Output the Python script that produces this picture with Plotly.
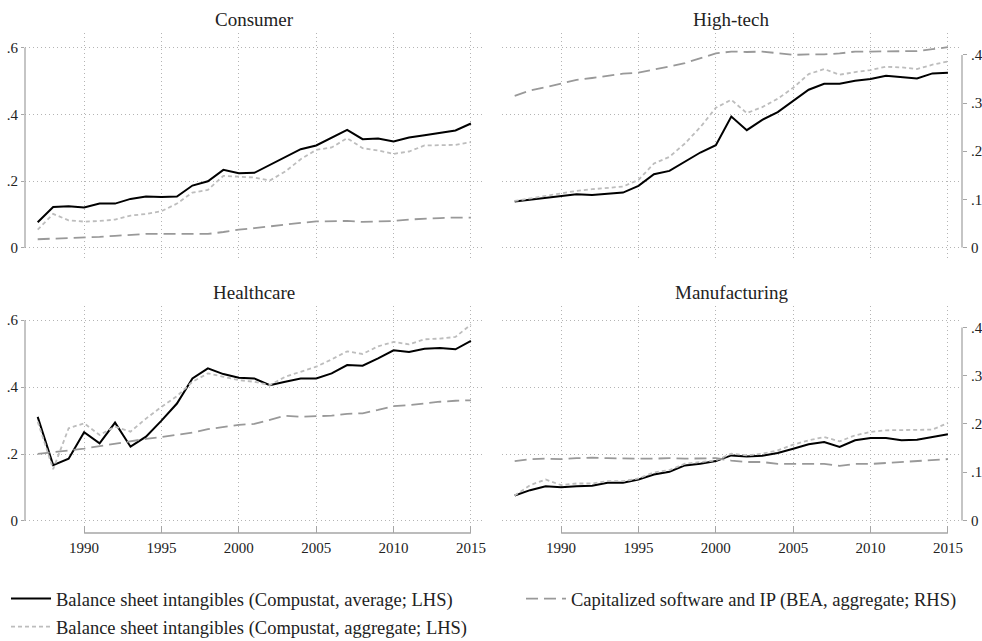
import plotly.graph_objects as go

years = list(range(1987, 2016))
year_ticks = [1990, 1995, 2000, 2005, 2010, 2015]
lhs_ticks = [0, 0.2, 0.4, 0.6]
lhs_labels = ["0", ".2", ".4", ".6"]
rhs_ticks = [0, 0.1, 0.2, 0.3, 0.4]
rhs_labels = ["0", ".1", ".2", ".3", ".4"]

panel_titles = ["Consumer", "High-tech", "Healthcare", "Manufacturing"]
series_names = [
    "Balance sheet intangibles (Compustat, average; LHS)",
    "Balance sheet intangibles (Compustat, aggregate; LHS)",
    "Capitalized software and IP (BEA, aggregate; RHS)",
]

consumer_avg = [0.077, 0.123, 0.125, 0.121, 0.133, 0.133, 0.147, 0.154, 0.153, 0.154, 0.187, 0.200, 0.234, 0.224, 0.225,
                0.248, 0.272, 0.296, 0.307, 0.331, 0.354, 0.326, 0.328, 0.319, 0.331, 0.338, 0.345, 0.352, 0.373]
consumer_agg = [0.055, 0.102, 0.083, 0.079, 0.081, 0.085, 0.097, 0.102, 0.110, 0.133, 0.166, 0.174, 0.216, 0.214, 0.211,
                0.202, 0.229, 0.266, 0.294, 0.301, 0.329, 0.299, 0.292, 0.282, 0.289, 0.307, 0.307, 0.309, 0.317]
consumer_bea = [0.017, 0.018, 0.019, 0.020, 0.022, 0.024, 0.026, 0.028, 0.028, 0.028, 0.027, 0.028, 0.032, 0.037, 0.040,
                0.044, 0.047, 0.051, 0.054, 0.055, 0.055, 0.053, 0.054, 0.055, 0.058, 0.060, 0.061, 0.062, 0.062]

hightech_avg = [0.139, 0.144, 0.151, 0.156, 0.161, 0.159, 0.162, 0.166, 0.186, 0.221, 0.231, 0.258, 0.286, 0.308, 0.394,
                0.353, 0.384, 0.407, 0.440, 0.474, 0.492, 0.492, 0.501, 0.506, 0.516, 0.511, 0.508, 0.523, 0.525]
hightech_agg = [0.141, 0.149, 0.156, 0.164, 0.171, 0.176, 0.181, 0.184, 0.204, 0.253, 0.273, 0.313, 0.362, 0.420, 0.444,
                0.404, 0.422, 0.447, 0.480, 0.521, 0.536, 0.519, 0.527, 0.533, 0.543, 0.541, 0.536, 0.549, 0.559]
hightech_bea = [0.315, 0.326, 0.333, 0.341, 0.348, 0.352, 0.357, 0.361, 0.363, 0.369, 0.376, 0.383, 0.393, 0.403, 0.407,
                0.406, 0.407, 0.403, 0.400, 0.401, 0.401, 0.403, 0.407, 0.407, 0.407, 0.407, 0.408, 0.412, 0.416]

healthcare_avg = [0.311, 0.167, 0.186, 0.265, 0.232, 0.294, 0.222, 0.252, 0.300, 0.351, 0.426, 0.456, 0.439, 0.428, 0.426,
                  0.406, 0.416, 0.426, 0.426, 0.441, 0.466, 0.464, 0.486, 0.510, 0.505, 0.515, 0.517, 0.513, 0.538]
healthcare_agg = [0.297, 0.155, 0.277, 0.292, 0.257, 0.282, 0.267, 0.306, 0.341, 0.373, 0.416, 0.441, 0.431, 0.421, 0.416,
                  0.406, 0.431, 0.446, 0.461, 0.483, 0.507, 0.499, 0.522, 0.535, 0.528, 0.543, 0.545, 0.550, 0.587]
healthcare_bea = [0.138, 0.141, 0.145, 0.149, 0.154, 0.160, 0.164, 0.169, 0.173, 0.177, 0.182, 0.189, 0.194, 0.198, 0.200,
                  0.209, 0.217, 0.215, 0.216, 0.217, 0.221, 0.222, 0.229, 0.237, 0.239, 0.243, 0.246, 0.248, 0.249]

manufacturing_avg = [0.076, 0.092, 0.104, 0.101, 0.104, 0.105, 0.114, 0.114, 0.124, 0.139, 0.147, 0.166, 0.171, 0.179, 0.196,
                     0.193, 0.195, 0.203, 0.216, 0.229, 0.236, 0.221, 0.241, 0.248, 0.248, 0.241, 0.243, 0.251, 0.259]
manufacturing_agg = [0.076, 0.107, 0.124, 0.107, 0.112, 0.112, 0.119, 0.119, 0.127, 0.145, 0.152, 0.171, 0.176, 0.181, 0.201,
                     0.196, 0.201, 0.211, 0.228, 0.241, 0.251, 0.238, 0.256, 0.266, 0.271, 0.271, 0.273, 0.273, 0.293]
manufacturing_bea = [0.123, 0.127, 0.128, 0.127, 0.129, 0.130, 0.129, 0.128, 0.128, 0.128, 0.129, 0.128, 0.129, 0.129, 0.124,
                     0.121, 0.121, 0.117, 0.117, 0.117, 0.117, 0.113, 0.117, 0.117, 0.119, 0.120, 0.122, 0.124, 0.127]

W, H = 982, 641
FONT = "Liberation Serif, Times New Roman, serif"
TEXT = "#222222"
GRID = "#b4b4b4"
GRID_DASH = "1px,3px"
AXIS = "#a6a6a6"
COLORS = ["#000000", "#bdbdbd", "#999999"]
DASHES = ["solid", "4px,3px", "12px,6px"]
LEGENDS = ["legend", "legend", "legend2"]
GROUPS = ["avg", "agg", "bea"]


def fx(p):
    return p / W


def fy(p):
    return 1 - p / H


cols = [(25, 483), (502, 960)]
rows = [(33, 258), (305.5, 531)]
panel_data = [
    (consumer_avg, consumer_agg, consumer_bea),
    (hightech_avg, hightech_agg, hightech_bea),
    (healthcare_avg, healthcare_agg, healthcare_bea),
    (manufacturing_avg, manufacturing_agg, manufacturing_bea),
]

fig = go.Figure()
layout = {}
shapes = []
annotations = []
xrange_ = [1986.18, 2015.78]
lhs_range = [-0.030, 0.644]
rhs_range = [-0.022, 0.4455]

for i, (title, data) in enumerate(zip(panel_titles, panel_data)):
    r, c = divmod(i, 2)
    x0, x1 = cols[c]
    y0, y1 = rows[r]
    xn = "x" if i == 0 else f"x{i + 1}"
    yl = f"y{2 * i + 1}" if i > 0 else "y"
    yr = f"y{2 * i + 2}"
    xkey = "xaxis" if i == 0 else f"xaxis{i + 1}"
    ylkey = "yaxis" if i == 0 else f"yaxis{2 * i + 1}"
    yrkey = f"yaxis{2 * i + 2}"

    xa = dict(domain=[fx(x0), fx(x1)], range=xrange_, tickvals=year_ticks,
              ticktext=[str(t) for t in year_ticks], showgrid=True, gridcolor=GRID,
              griddash=GRID_DASH, gridwidth=1, zeroline=False, showline=False,
              tickfont=dict(family=FONT, size=15, color=TEXT))
    if r == 0:
        xa.update(anchor=yl, showticklabels=False, ticks="")
    else:
        xa.update(anchor="free", position=fy(533), ticks="inside", ticklen=7,
                  tickcolor=AXIS, tickwidth=1.3, showticklabels=True, ticklabelstandoff=4)
        shapes.append(dict(type="line", xref=xn, yref="paper", x0=1990, x1=2015,
                           y0=fy(533), y1=fy(533), line=dict(color=AXIS, width=1.3)))
    layout[xkey] = xa

    ya = dict(domain=[fy(y1), fy(y0)], range=lhs_range, tickvals=lhs_ticks, ticktext=lhs_labels,
              showgrid=True, gridcolor=GRID, griddash=GRID_DASH, gridwidth=1, zeroline=False,
              showline=False, anchor=xn, tickfont=dict(family=FONT, size=15, color=TEXT))
    if c == 0:
        ya.update(ticks="outside", ticklen=3, tickcolor=AXIS, tickwidth=1.3, showticklabels=True)
        shapes.append(dict(type="line", xref="paper", yref=yl, x0=fx(x0), x1=fx(x0),
                           y0=0, y1=0.6, line=dict(color=AXIS, width=1.3)))
    else:
        ya.update(ticks="", showticklabels=False)
    layout[ylkey] = ya

    yb = dict(overlaying=yl, side="right", range=rhs_range, tickvals=rhs_ticks, ticktext=rhs_labels,
              showgrid=False, zeroline=False, showline=False,
              tickfont=dict(family=FONT, size=15, color=TEXT))
    if c == 0:
        yb.update(visible=False, anchor=xn)
    else:
        yb.update(anchor="free", position=fx(962), ticks="outside", ticklen=4,
                  tickcolor=AXIS, tickwidth=1.3, showticklabels=True,
                  ticklabeloverflow="allow", ticklabelstandoff=1)
        shapes.append(dict(type="line", xref="paper", yref=yr, x0=fx(962), x1=fx(962),
                           y0=0, y1=0.4, line=dict(color=AXIS, width=1.3)))
    layout[yrkey] = yb

    for k, vals in enumerate(data):
        fig.add_trace(go.Scatter(
            x=years, y=vals, mode="lines", name=series_names[k],
            xaxis=xn, yaxis=(yr if k == 2 else yl),
            line=dict(color=COLORS[k], width=2 if k == 0 else 1.8, dash=DASHES[k]),
            showlegend=(i == 0), legend=LEGENDS[k], legendgroup=GROUPS[k], hoverinfo="skip"))

    annotations.append(dict(text=title, xref="paper", yref="paper",
                            x=fx((x0 + x1) / 2), y=fy(20 if r == 0 else 292),
                            xanchor="center", yanchor="middle", showarrow=False,
                            font=dict(family=FONT, size=19, color=TEXT)))

legend_common = dict(orientation="v", xanchor="left", yanchor="top", itemwidth=40,
                     font=dict(family=FONT, size=18.5, color=TEXT), bgcolor="rgba(0,0,0,0)",
                     traceorder="grouped", tracegroupgap=1)

fig.update_layout(
    width=W, height=H, margin=dict(l=0, r=0, t=0, b=0, autoexpand=False),
    paper_bgcolor="white", plot_bgcolor="white",
    font=dict(family=FONT, color=TEXT),
    shapes=shapes, annotations=annotations,
    legend=dict(x=fx(6), y=fy(580), **legend_common),
    legend2=dict(x=fx(521), y=fy(580), **legend_common),
    **layout,
)

fig.write_html("out.html",
               config={"displayModeBar": False},
               post_script="document.body.style.margin='0';document.body.style.padding='0';"
                           "document.body.style.overflow='hidden';")
